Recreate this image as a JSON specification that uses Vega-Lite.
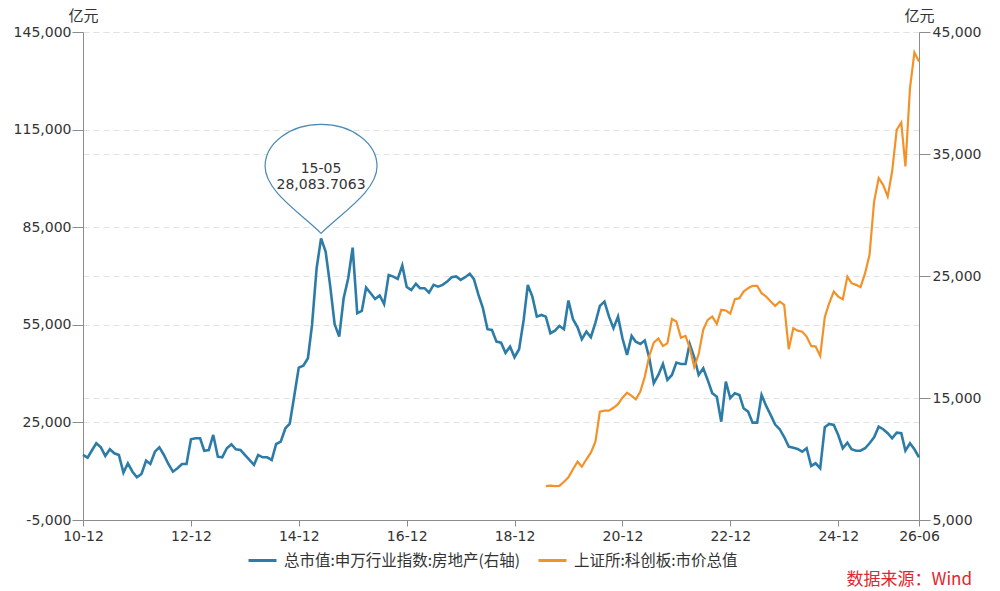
{
  "$schema": "https://vega.github.io/schema/vega-lite/v6.json",
  "width": 836,
  "height": 488,
  "autosize": {"type": "none"},
  "padding": {"left": 83, "top": 32, "right": 81, "bottom": 71},
  "background": "white",
  "config": {
    "view": {"stroke": null},
    "font": "DejaVu Sans",
    "locale": {
      "number": {"decimal": ".", "thousands": ",", "grouping": [3], "currency": ["", ""], "minus": "-"}
    },
    "axis": {
      "labelFont": "DejaVu Sans",
      "labelFontSize": 14,
      "labelColor": "#333333",
      "domainColor": "#8c8c8c",
      "tickColor": "#8c8c8c",
      "gridColor": "#e2e2e2",
      "gridDash": [6, 4],
      "titleFont": "Noto Sans CJK SC",
      "titleFontWeight": "normal",
      "titleFontSize": 15,
      "titleColor": "#333333",
      "labelOverlap": false,
      "labelFlush": false,
      "labelBound": false
    }
  },
  "title": {
    "text": "数据来源：Wind",
    "orient": "bottom",
    "anchor": "end",
    "frame": "group",
    "align": "right",
    "color": "#e0262b",
    "font": "Noto Sans CJK SC",
    "fontSize": 17,
    "fontWeight": "normal",
    "dx": 53,
    "offset": 3
  },
  "datasets": {
    "fdc": [
      {"date": "2010-12", "value": 10330}, {"date": "2011-01", "value": 10110}, {"date": "2011-02", "value": 10740},
      {"date": "2011-03", "value": 11290}, {"date": "2011-04", "value": 10960}, {"date": "2011-05", "value": 10250},
      {"date": "2011-06", "value": 10800}, {"date": "2011-07", "value": 10470}, {"date": "2011-08", "value": 10330},
      {"date": "2011-09", "value": 8880}, {"date": "2011-10", "value": 9650}, {"date": "2011-11", "value": 8960},
      {"date": "2011-12", "value": 8500}, {"date": "2012-01", "value": 8770}, {"date": "2012-02", "value": 9860},
      {"date": "2012-03", "value": 9590}, {"date": "2012-04", "value": 10600}, {"date": "2012-05", "value": 10960},
      {"date": "2012-06", "value": 10330}, {"date": "2012-07", "value": 9590}, {"date": "2012-08", "value": 8960},
      {"date": "2012-09", "value": 9240}, {"date": "2012-10", "value": 9590}, {"date": "2012-11", "value": 9590},
      {"date": "2012-12", "value": 11620}, {"date": "2013-01", "value": 11700}, {"date": "2013-02", "value": 11700},
      {"date": "2013-03", "value": 10680}, {"date": "2013-04", "value": 10740}, {"date": "2013-05", "value": 11970},
      {"date": "2013-06", "value": 10190}, {"date": "2013-07", "value": 10140}, {"date": "2013-08", "value": 10880},
      {"date": "2013-09", "value": 11210}, {"date": "2013-10", "value": 10800}, {"date": "2013-11", "value": 10740},
      {"date": "2013-12", "value": 10330}, {"date": "2014-01", "value": 9920}, {"date": "2014-02", "value": 9510},
      {"date": "2014-03", "value": 10330}, {"date": "2014-04", "value": 10140}, {"date": "2014-05", "value": 10140},
      {"date": "2014-06", "value": 9920}, {"date": "2014-07", "value": 11230}, {"date": "2014-08", "value": 11420},
      {"date": "2014-09", "value": 12500}, {"date": "2014-10", "value": 12900}, {"date": "2014-11", "value": 15200},
      {"date": "2014-12", "value": 17490}, {"date": "2015-01", "value": 17650}, {"date": "2015-02", "value": 18260},
      {"date": "2015-03", "value": 20990}, {"date": "2015-04", "value": 25640}, {"date": "2015-05", "value": 28083.7063},
      {"date": "2015-06", "value": 27000}, {"date": "2015-07", "value": 24270}, {"date": "2015-08", "value": 21050},
      {"date": "2015-09", "value": 20030}, {"date": "2015-10", "value": 23180}, {"date": "2015-11", "value": 24820},
      {"date": "2015-12", "value": 27330}, {"date": "2016-01", "value": 21950}, {"date": "2016-02", "value": 22140},
      {"date": "2016-03", "value": 24050}, {"date": "2016-04", "value": 23590}, {"date": "2016-05", "value": 23120},
      {"date": "2016-06", "value": 23400}, {"date": "2016-07", "value": 22690}, {"date": "2016-08", "value": 25090},
      {"date": "2016-09", "value": 24950}, {"date": "2016-10", "value": 24770}, {"date": "2016-11", "value": 25860},
      {"date": "2016-12", "value": 24100}, {"date": "2017-01", "value": 23860}, {"date": "2017-02", "value": 24360},
      {"date": "2017-03", "value": 24000}, {"date": "2017-04", "value": 24000}, {"date": "2017-05", "value": 23640},
      {"date": "2017-06", "value": 24270}, {"date": "2017-07", "value": 24130}, {"date": "2017-08", "value": 24270},
      {"date": "2017-09", "value": 24540}, {"date": "2017-10", "value": 24900}, {"date": "2017-11", "value": 24960},
      {"date": "2017-12", "value": 24680}, {"date": "2018-01", "value": 24900}, {"date": "2018-02", "value": 25180},
      {"date": "2018-03", "value": 24740}, {"date": "2018-04", "value": 23450}, {"date": "2018-05", "value": 22360},
      {"date": "2018-06", "value": 20640}, {"date": "2018-07", "value": 20580}, {"date": "2018-08", "value": 19620},
      {"date": "2018-09", "value": 19540}, {"date": "2018-10", "value": 18700}, {"date": "2018-11", "value": 19210},
      {"date": "2018-12", "value": 18340}, {"date": "2019-01", "value": 19000}, {"date": "2019-02", "value": 21400},
      {"date": "2019-03", "value": 24270}, {"date": "2019-04", "value": 23310}, {"date": "2019-05", "value": 21670},
      {"date": "2019-06", "value": 21810}, {"date": "2019-07", "value": 21670}, {"date": "2019-08", "value": 20310},
      {"date": "2019-09", "value": 20520}, {"date": "2019-10", "value": 20910}, {"date": "2019-11", "value": 20640},
      {"date": "2019-12", "value": 22990}, {"date": "2020-01", "value": 21460}, {"date": "2020-02", "value": 20800},
      {"date": "2020-03", "value": 19820}, {"date": "2020-04", "value": 20440}, {"date": "2020-05", "value": 19980},
      {"date": "2020-06", "value": 21180}, {"date": "2020-07", "value": 22550}, {"date": "2020-08", "value": 22900},
      {"date": "2020-09", "value": 21670}, {"date": "2020-10", "value": 20720}, {"date": "2020-11", "value": 21670},
      {"date": "2020-12", "value": 19900}, {"date": "2021-01", "value": 18530}, {"date": "2021-02", "value": 20090},
      {"date": "2021-03", "value": 19620}, {"date": "2021-04", "value": 19430}, {"date": "2021-05", "value": 19710},
      {"date": "2021-06", "value": 18260}, {"date": "2021-07", "value": 16210}, {"date": "2021-08", "value": 16890},
      {"date": "2021-09", "value": 17790}, {"date": "2021-10", "value": 16480}, {"date": "2021-11", "value": 16890},
      {"date": "2021-12", "value": 17900}, {"date": "2022-01", "value": 17790}, {"date": "2022-02", "value": 17790},
      {"date": "2022-03", "value": 19430}, {"date": "2022-04", "value": 18340}, {"date": "2022-05", "value": 16890},
      {"date": "2022-06", "value": 17440}, {"date": "2022-07", "value": 16480}, {"date": "2022-08", "value": 15390},
      {"date": "2022-09", "value": 15110}, {"date": "2022-10", "value": 13060}, {"date": "2022-11", "value": 16340},
      {"date": "2022-12", "value": 14980}, {"date": "2023-01", "value": 15390}, {"date": "2023-02", "value": 15250},
      {"date": "2023-03", "value": 14160}, {"date": "2023-04", "value": 13880}, {"date": "2023-05", "value": 12980},
      {"date": "2023-06", "value": 12980}, {"date": "2023-07", "value": 15250}, {"date": "2023-08", "value": 14350},
      {"date": "2023-09", "value": 13600}, {"date": "2023-10", "value": 12820}, {"date": "2023-11", "value": 12440},
      {"date": "2023-12", "value": 11800}, {"date": "2024-01", "value": 11010}, {"date": "2024-02", "value": 10920},
      {"date": "2024-03", "value": 10820}, {"date": "2024-04", "value": 10600}, {"date": "2024-05", "value": 10880},
      {"date": "2024-06", "value": 9430}, {"date": "2024-07", "value": 9650}, {"date": "2024-08", "value": 9240},
      {"date": "2024-09", "value": 12600}, {"date": "2024-10", "value": 12870}, {"date": "2024-11", "value": 12790},
      {"date": "2024-12", "value": 11970}, {"date": "2025-01", "value": 10880}, {"date": "2025-02", "value": 11340},
      {"date": "2025-03", "value": 10800}, {"date": "2025-04", "value": 10680}, {"date": "2025-05", "value": 10680},
      {"date": "2025-06", "value": 10880}, {"date": "2025-07", "value": 11290}, {"date": "2025-08", "value": 11780},
      {"date": "2025-09", "value": 12650}, {"date": "2025-10", "value": 12440}, {"date": "2025-11", "value": 12110},
      {"date": "2025-12", "value": 11700}, {"date": "2026-01", "value": 12160}, {"date": "2026-02", "value": 12110},
      {"date": "2026-03", "value": 10680}, {"date": "2026-04", "value": 11290}, {"date": "2026-05", "value": 10800},
      {"date": "2026-06", "value": 10140}
    ],
    "kcb": [
      {"date": "2019-07", "value": 5440}, {"date": "2019-08", "value": 5540}, {"date": "2019-09", "value": 5440},
      {"date": "2019-10", "value": 5500}, {"date": "2019-11", "value": 6760}, {"date": "2019-12", "value": 8120},
      {"date": "2020-01", "value": 10580}, {"date": "2020-02", "value": 12920}, {"date": "2020-03", "value": 11380},
      {"date": "2020-04", "value": 13660}, {"date": "2020-05", "value": 15690}, {"date": "2020-06", "value": 19070},
      {"date": "2020-07", "value": 28300}, {"date": "2020-08", "value": 28600}, {"date": "2020-09", "value": 28600},
      {"date": "2020-10", "value": 29500}, {"date": "2020-11", "value": 30600}, {"date": "2020-12", "value": 32600},
      {"date": "2021-01", "value": 34140}, {"date": "2021-02", "value": 33120}, {"date": "2021-03", "value": 32110},
      {"date": "2021-04", "value": 34500}, {"date": "2021-05", "value": 39000}, {"date": "2021-06", "value": 45500},
      {"date": "2021-07", "value": 49500}, {"date": "2021-08", "value": 50800}, {"date": "2021-09", "value": 48500},
      {"date": "2021-10", "value": 49300}, {"date": "2021-11", "value": 56800}, {"date": "2021-12", "value": 56000},
      {"date": "2022-01", "value": 51000}, {"date": "2022-02", "value": 51600}, {"date": "2022-03", "value": 48000},
      {"date": "2022-04", "value": 42000}, {"date": "2022-05", "value": 46000}, {"date": "2022-06", "value": 53500},
      {"date": "2022-07", "value": 56500}, {"date": "2022-08", "value": 57500}, {"date": "2022-09", "value": 55300},
      {"date": "2022-10", "value": 59600}, {"date": "2022-11", "value": 59400}, {"date": "2022-12", "value": 58400},
      {"date": "2023-01", "value": 62870}, {"date": "2023-02", "value": 63180}, {"date": "2023-03", "value": 65210},
      {"date": "2023-04", "value": 66250}, {"date": "2023-05", "value": 66960}, {"date": "2023-06", "value": 66960},
      {"date": "2023-07", "value": 64720}, {"date": "2023-08", "value": 63670}, {"date": "2023-09", "value": 62130},
      {"date": "2023-10", "value": 60810}, {"date": "2023-11", "value": 62130}, {"date": "2023-12", "value": 61120},
      {"date": "2024-01", "value": 47490}, {"date": "2024-02", "value": 53950}, {"date": "2024-03", "value": 53210},
      {"date": "2024-04", "value": 52900}, {"date": "2024-05", "value": 51400}, {"date": "2024-06", "value": 48500},
      {"date": "2024-07", "value": 48300}, {"date": "2024-08", "value": 45430}, {"date": "2024-09", "value": 57330},
      {"date": "2024-10", "value": 61640}, {"date": "2024-11", "value": 65210}, {"date": "2024-12", "value": 63670},
      {"date": "2025-01", "value": 62870}, {"date": "2025-02", "value": 69820}, {"date": "2025-03", "value": 67790},
      {"date": "2025-04", "value": 67270}, {"date": "2025-05", "value": 66560}, {"date": "2025-06", "value": 70870},
      {"date": "2025-07", "value": 76500}, {"date": "2025-08", "value": 92890}, {"date": "2025-09", "value": 100090},
      {"date": "2025-10", "value": 98030}, {"date": "2025-11", "value": 94430}, {"date": "2025-12", "value": 102120},
      {"date": "2026-01", "value": 114950}, {"date": "2026-02", "value": 117190}, {"date": "2026-03", "value": 103660},
      {"date": "2026-04", "value": 127770}, {"date": "2026-05", "value": 138730}, {"date": "2026-06", "value": 135960}
    ],
    "peak": [
      {"date": "2015-05", "value": 28083.7063, "label": "15-05\n28,083.7063"}
    ]
  },
  "encoding": {
    "x": {
      "field": "date",
      "type": "temporal",
      "scale": {
        "type": "utc",
        "domain": [
          {"year": 2010, "month": 12, "date": 1, "utc": true},
          {"year": 2026, "month": 6, "date": 1, "utc": true}
        ]
      },
      "axis": {
        "title": null,
        "grid": false,
        "format": "%y-%m",
        "tickSize": 6,
        "labelPadding": 3,
        "values": [
          {"year": 2010, "month": 12, "date": 1, "utc": true},
          {"year": 2012, "month": 12, "date": 1, "utc": true},
          {"year": 2014, "month": 12, "date": 1, "utc": true},
          {"year": 2016, "month": 12, "date": 1, "utc": true},
          {"year": 2018, "month": 12, "date": 1, "utc": true},
          {"year": 2020, "month": 12, "date": 1, "utc": true},
          {"year": 2022, "month": 12, "date": 1, "utc": true},
          {"year": 2024, "month": 12, "date": 1, "utc": true},
          {"year": 2026, "month": 6, "date": 1, "utc": true}
        ]
      }
    }
  },
  "layer": [
    {
      "encoding": {
        "y": {
          "field": "value",
          "type": "quantitative",
          "scale": {"domain": [5000, 45000], "nice": false, "zero": false},
          "axis": {
            "orient": "right",
            "title": "亿元",
            "titleAngle": 0,
            "titleX": 0,
            "titleY": -17,
            "titleAlign": "center",
            "titleBaseline": "middle",
            "values": [5000, 15000, 25000, 35000, 45000],
            "format": ",.0f",
            "tickSize": 11,
            "labelPadding": 2,
            "grid": true
          }
        }
      },
      "layer": [
        {
          "data": {"name": "fdc"},
          "mark": {"type": "line", "strokeWidth": 2.6},
          "encoding": {
            "color": {
              "datum": "总市值:申万行业指数:房地产(右轴)",
              "type": "nominal",
              "scale": {
                "domain": ["总市值:申万行业指数:房地产(右轴)", "上证所:科创板:市价总值"],
                "range": ["#2d7ca8", "#f39229"]
              },
              "legend": {
                "title": null,
                "orient": "none",
                "legendX": 164,
                "legendY": 513,
                "direction": "horizontal",
                "symbolType": "stroke",
                "symbolSize": 784,
                "symbolStrokeWidth": 3,
                "labelFont": "Noto Sans CJK SC",
                "labelFontSize": 15.5,
                "labelColor": "#333333",
                "labelOffset": 6,
                "labelLimit": 400,
                "columnPadding": 11,
                "padding": 0
              }
            }
          }
        },
        {
          "data": {"name": "peak"},
          "mark": {
            "type": "point",
            "shape": "M0,-0.09 C-0.35,-0.44 -1,-0.84 -1,-1.286 C-1,-1.70 -0.552,-2.036 0,-2.036 C0.552,-2.036 1,-1.70 1,-1.286 C1,-0.84 0.35,-0.44 0,-0.09 Z",
            "size": 12544,
            "filled": true,
            "fill": "white",
            "stroke": "#4a8ab4",
            "strokeWidth": 1.2,
            "opacity": 1,
            "fillOpacity": 1
          }
        },
        {
          "data": {"name": "peak"},
          "mark": {
            "type": "text",
            "dy": -69,
            "fontSize": 14,
            "lineHeight": 16,
            "lineBreak": "\n",
            "color": "#333333",
            "font": "DejaVu Sans",
            "baseline": "middle",
            "align": "center"
          },
          "encoding": {"text": {"field": "label", "type": "nominal"}}
        }
      ]
    },
    {
      "data": {"name": "kcb"},
      "mark": {"type": "line", "strokeWidth": 2.2},
      "encoding": {
        "y": {
          "field": "value",
          "type": "quantitative",
          "scale": {"domain": [-5000, 145000], "nice": false, "zero": false},
          "axis": {
            "orient": "left",
            "title": "亿元",
            "titleAngle": 0,
            "titleX": 0,
            "titleY": -17,
            "titleAlign": "center",
            "titleBaseline": "middle",
            "values": [-5000, 25000, 55000, 85000, 115000, 145000],
            "format": ",.0f",
            "tickSize": 11,
            "labelPadding": 1,
            "grid": true
          }
        },
        "color": {"datum": "上证所:科创板:市价总值", "type": "nominal"}
      }
    }
  ],
  "resolve": {"scale": {"y": "independent"}}
}
